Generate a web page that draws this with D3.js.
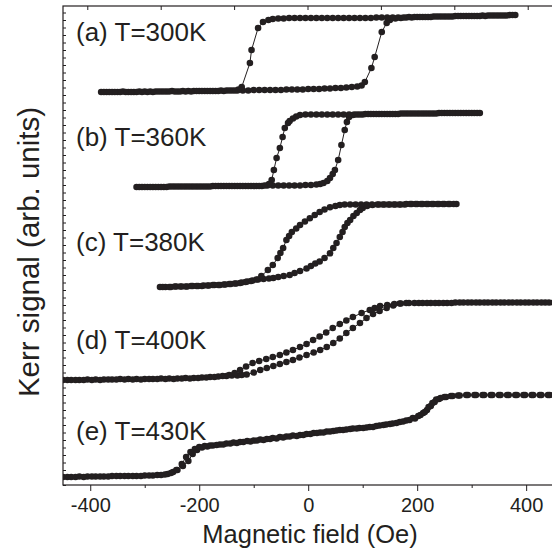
<!DOCTYPE html>
<html><head><meta charset="utf-8">
<script src="https://cdn.jsdelivr.net/npm/d3@7"></script>
<style>
html,body{margin:0;padding:0;background:#fff;}
text{font-family:"Liberation Sans",Arial,Helvetica,sans-serif;fill:#231f20;}
</style></head>
<body><svg id="chart" width="552" height="556"></svg>
<script>
// ---- data: [field (Oe), Kerr signal (arb. units, offset per curve)] ----
const ascA = [[-380,393],[-370,393],[-360,393],[-350,393],[-340,393.5],[-330,393],[-320,393],[-310,393.5],[-300,393.5],[-290,393.5],[-280,393.5],[-270,393.5],[-260,393.5],[-250,394],[-240,393.5],[-230,394],[-220,394],[-210,394],[-200,394],[-190,394],[-180,394],[-170,394],[-160,394.5],[-150,394.5],[-140,394.5],[-130,394.5],[-120,394.5],[-110,394.5],[-100,395],[-90,395],[-80,395],[-70,395],[-60,395],[-50,395],[-40,395.5],[-30,395.5],[-20,395.5],[-10,395.5],[0,396],[10,396],[20,396],[30,396.5],[40,396.5],[50,397],[60,397],[70,397.5],[80,398],[90,398.5],[98,399.5],[104,403],[116,417],[122,428],[135,453],[144,462],[150,465],[160,466.5],[170,467],[180,467.5],[190,467.5],[200,468],[210,468],[220,468],[230,468.5],[240,468.5],[250,468.5],[260,468.5],[270,469],[280,469],[290,469],[300,469],[310,469],[320,469.5],[330,469.5],[340,469.5],[350,469.5],[360,469.5],[370,470],[380,470]];
const descA = [[375,470],[365,469.5],[355,469.5],[345,469.5],[335,469.5],[325,469],[315,469],[305,469],[295,469],[285,469],[275,469],[265,468.5],[255,468.5],[245,468.5],[235,468.5],[225,468],[215,468],[205,468],[195,468],[185,468],[175,467.5],[165,467.5],[155,467.5],[145,467.5],[135,467.5],[125,467.5],[115,467],[105,467],[95,467],[85,467],[75,467],[65,467],[55,467],[45,467],[35,467],[25,467],[15,467],[5,467],[-5,467],[-15,467],[-25,467],[-35,467],[-45,466.5],[-55,466.5],[-65,466],[-73,465],[-83,463],[-92,457],[-104,435],[-107,422],[-122,398],[-128,395.5],[-135,394.5],[-145,394.5],[-155,394],[-165,394],[-175,394],[-185,394],[-195,394],[-205,394],[-215,393.5],[-225,393.5],[-235,393.5],[-245,393.5],[-255,393.5],[-265,393.5],[-275,393.5],[-285,393],[-295,393],[-305,393],[-315,393],[-325,393],[-335,393],[-345,393],[-355,393],[-365,393],[-375,393]];

const ascB = [[-315,298],[-305,298],[-295,298],[-285,298],[-275,298],[-265,298],[-255,298.5],[-245,298.5],[-235,298.5],[-225,298.5],[-215,298.5],[-205,298.5],[-195,298.5],[-185,298.5],[-175,299],[-165,299],[-155,299],[-145,299],[-135,299],[-125,299],[-115,299],[-105,299],[-95,299],[-85,299],[-75,299.5],[-65,299.5],[-55,299.5],[-45,299.5],[-35,299.5],[-25,299.5],[-15,299.5],[-5,300],[5,300],[15,300.5],[22,301],[28,302],[35,304],[40,307],[45,311],[49,315],[55,325],[61,340],[67,355],[71,363],[75,368],[82,370],[90,370.5],[100,370.5],[110,371],[120,371],[130,371],[140,371],[150,371],[160,371],[170,371.5],[180,371.5],[190,371.5],[200,371.5],[210,371.5],[220,371.5],[230,371.5],[240,372],[250,372],[260,372],[270,372],[280,372],[290,372],[300,372],[310,372]];
const descB = [[315,372],[305,372],[295,372],[285,372],[275,372],[265,372],[255,372],[245,372],[235,371.5],[225,371.5],[215,371.5],[205,371.5],[195,371.5],[185,371.5],[175,371.5],[165,371],[155,371],[145,371],[135,371],[125,371],[115,371],[105,371],[95,370.5],[85,370.5],[75,370.5],[65,370.5],[55,370.5],[45,370.5],[35,370.5],[25,370.5],[15,370.5],[5,370.5],[-5,370.5],[-15,370],[-22,368.5],[-28,366.5],[-34,364],[-37,362],[-43,357],[-47,348],[-52,337],[-58,327],[-63,315],[-67,305],[-72,301],[-80,299.5],[-90,299],[-100,299],[-110,299],[-120,299],[-130,299],[-140,299],[-150,299],[-160,299],[-170,299],[-180,298.5],[-190,298.5],[-200,298.5],[-210,298.5],[-220,298.5],[-230,298.5],[-240,298.5],[-250,298.5],[-260,298],[-270,298],[-280,298],[-290,298],[-300,298],[-310,298]];

const ascC = [[-272,198],[-262,198],[-252,198],[-242,198.5],[-232,198.5],[-222,198.5],[-212,199],[-202,199],[-192,199.5],[-182,199.5],[-172,200],[-162,200],[-152,200.5],[-142,201],[-132,201.5],[-122,202.5],[-112,203.5],[-102,204.5],[-92,205.5],[-82,206],[-72,206.5],[-64,207],[-55,208],[-45,209],[-34,210],[-25,212],[-15,214],[-3,216.5],[5,219],[13,221.5],[21,223.5],[30,227],[40,231.7],[46,237],[52,242],[58,248],[63,253],[67,258],[72,262],[77,265],[83,269],[89,272],[95,275],[100,277],[108,279],[118,280],[130,280.5],[140,280.5],[150,280.5],[160,280.5],[170,280.5],[180,281],[190,281],[200,281],[210,281],[220,281],[230,281],[240,281],[250,281],[260,281],[272,281]];
const descC = [[267,281],[257,281],[247,281],[237,281],[227,281],[217,281],[207,281],[197,281],[187,281],[177,280.5],[167,280.5],[157,280.5],[147,280.5],[137,280.5],[127,280.5],[117,280.5],[107,280.5],[97,280.5],[87,280.5],[77,280.5],[67,280.5],[58,280],[50,279],[40,277.7],[30,275.5],[21,273],[12,270],[3,266.7],[-6,263.5],[-15,260],[-22,256.5],[-30,253],[-35,249],[-40,245],[-46,237],[-51,232],[-56,227],[-65,220],[-74,215],[-86,209],[-95,205.5],[-105,204],[-115,203],[-125,202],[-135,201.5],[-145,201],[-155,200.5],[-165,200],[-175,200],[-185,199.5],[-195,199],[-205,199],[-215,199],[-225,198.5],[-235,198.5],[-245,198.5],[-255,198],[-267,198]];

const ascD = [[-450,105],[-435,105],[-420,105],[-405,105.5],[-390,105.5],[-375,105.5],[-360,105.5],[-345,106],[-330,106],[-315,106],[-300,106],[-285,106],[-270,106.5],[-255,106.5],[-240,106.5],[-225,107],[-210,107],[-195,107.5],[-180,108],[-165,108.5],[-150,109],[-140,109.5],[-130,109.5],[-122,110],[-113,110.5],[-100,112.5],[-88,115],[-76,117],[-64,119],[-52,121],[-40,123],[-28,125],[-16,127.5],[-3,130],[10,132.5],[22,135],[34,138],[46,142],[58,146.5],[70,152],[82,157],[95,162],[107,167],[119,171],[131,174],[144,177],[156,179.5],[168,181.5],[180,182],[195,182],[210,182],[225,182],[240,182],[255,182],[270,182.5],[285,182.5],[300,182.5],[315,182.5],[330,182.5],[345,182.5],[360,182.5],[375,182.5],[390,182.5],[405,182.5],[420,182.5],[435,182.5],[450,182.5]];
const descD = [[442,182.5],[428,182.5],[413,182.5],[398,182.5],[383,182.5],[368,182.5],[353,182.5],[338,182.5],[323,182.5],[308,182.5],[293,182.5],[278,182.5],[263,182],[248,182],[233,182],[218,182],[203,182],[185,182],[170,181.5],[158,181],[145,180],[132,179],[122,177],[113,175],[98,172],[82,168],[70,164.5],[58,161],[45,157],[33,152.5],[21,148.5],[9,145],[-3,141],[-15,138],[-28,135],[-40,132.5],[-52,130],[-65,128],[-77,126],[-90,124],[-102,122],[-114,118.5],[-125,115],[-135,112],[-145,110],[-157,109],[-172,108],[-187,107.5],[-202,107],[-217,106.5],[-232,106.5],[-247,106],[-262,106],[-277,106],[-292,106],[-307,105.5],[-322,105.5],[-337,105.5],[-352,105.5],[-367,105.5],[-382,105],[-397,105],[-412,105],[-427,105],[-442,105]];

const ascE = [[-450,8],[-435,8],[-420,8.5],[-405,8.5],[-390,8.5],[-375,8.5],[-360,9],[-345,9],[-330,9],[-315,9],[-300,9.5],[-285,9.5],[-270,10],[-258,11],[-248,13],[-240,15],[-230,19],[-220,24],[-212,31],[-204,35],[-195,37.5],[-185,38.5],[-175,39.5],[-162,40.5],[-150,41.5],[-137,42.5],[-125,43],[-112,44],[-100,44.5],[-88,45.5],[-76,46],[-65,47],[-52,48],[-40,48.5],[-28,49.5],[-15,50],[-3,51],[10,52],[22,52.5],[34,53.5],[46,54],[58,55],[70,55.5],[82,56.5],[94,57],[107,57.5],[119,58],[131,59.5],[143,60.5],[155,61.5],[168,63],[180,64.5],[192,67],[202,69],[211,72],[218,75],[225,79],[232,83],[240,86],[250,88],[262,89],[275,89.5],[290,90],[305,90],[320,90],[335,90],[350,90],[365,90],[380,90],[395,90],[410,90],[425,90],[440,90],[450,90]];
const descE = [[443,90],[428,90],[413,90],[398,90],[383,90],[368,90],[353,90],[338,90],[323,90],[308,90],[293,90],[278,89.5],[265,89],[253,88],[243,87],[235,85.5],[228,82],[221,78],[214,73],[206,70],[196,66.5],[186,65],[174,63.5],[162,62],[150,61],[138,60],[125,59],[113,58],[101,57],[89,56.5],[77,56],[64,55],[52,54.5],[40,53.5],[28,52.5],[16,52],[4,51],[-9,50],[-21,49],[-34,48.5],[-46,47.5],[-58,46.5],[-70,46],[-82,45],[-94,44.5],[-106,43.5],[-119,43],[-131,42],[-143,41.5],[-156,40.5],[-168,40],[-180,39.5],[-190,39],[-200,38],[-208,36],[-216,33],[-224,28],[-232,21],[-242,15],[-252,12],[-263,10.5],[-277,10],[-292,9.5],[-307,9],[-322,9],[-337,9],[-352,9],[-367,8.5],[-382,8.5],[-397,8.5],[-412,8],[-427,8],[-442,8]];

const branches = [ascA, descA, ascB, descB, ascC, descC, ascD, descD, ascE, descE];
const panelLabels = ["(a) T=300K","(b) T=360K","(c) T=380K","(d) T=400K","(e) T=430K"];
const panelLabelSignal = [444, 339, 234, 136, 45];
const xMajorTicks = [-400,-200,0,200,400];
const xMinorTicks = [-300,-100,100,300];
const xDomain = [-450,450];
const yDomain = [0,479];
const yMinorTicks = d3.range(0, 479, 7.5);
const topTicks = [0,1,2,3,4,5,6];
const xTitle = "Magnetic field (Oe)";
const yTitle = "Kerr signal (arb. units)";

// ---- drawing ----
const ink = "#231f20";
const L = 63, R = 553.4, T = 6, B = 485;
const svg = d3.select("#chart");
const x = d3.scaleLinear().domain(xDomain).range([L, R]);
const y = d3.scaleLinear().domain(yDomain).range([B, T]);
const xTop = d3.scaleLinear().domain([-0.331, 6.35]).range([L, R]);

svg.append("clipPath").attr("id","plotclip").append("rect")
  .attr("x", L).attr("y", T).attr("width", R-L).attr("height", B-T);

const plot = svg.append("g").attr("clip-path","url(#plotclip)");
const line = d3.line().x(d => x(d[0])).y(d => y(d[1]));
branches.forEach(br => {
  plot.append("path").datum(br).attr("d", line)
    .attr("fill","none").attr("stroke", ink).attr("stroke-width", 1);
});
branches.forEach(br => {
  plot.append("g").selectAll("circle").data(br).join("circle")
    .attr("cx", d => x(d[0])).attr("cy", d => y(d[1])).attr("r", 3.3).attr("fill", ink);
});

// frame
svg.append("rect").attr("x", L).attr("y", T).attr("width", R-L).attr("height", B-T)
  .attr("fill","none").attr("stroke", ink).attr("stroke-width", 1.2);

// bottom axis
const gx = svg.append("g").attr("transform", `translate(0,${B})`)
  .call(d3.axisBottom(x).tickValues(xMajorTicks).tickSize(6).tickPadding(7).tickFormat(d => String(d)));
const gxm = svg.append("g").attr("transform", `translate(0,${B})`)
  .call(d3.axisBottom(x).tickValues(xMinorTicks).tickSize(3).tickFormat(""));
// left axis (inward minor ticks)
const gy = svg.append("g").attr("transform", `translate(${L},0)`)
  .call(d3.axisLeft(y).tickValues(yMinorTicks).tickSize(-3).tickFormat(""));
// top axis (inward ticks)
const gt = svg.append("g").attr("transform", `translate(0,${T})`)
  .call(d3.axisTop(xTop).tickValues(topTicks).tickSize(-4).tickFormat(""));

[gx, gxm, gy, gt].forEach(g => {
  g.select(".domain").remove();
  g.selectAll("line").attr("stroke", ink).attr("stroke-width", 1);
  g.selectAll("text").attr("font-family", null).attr("font-size", 20).attr("fill", ink);
});

// panel labels
svg.append("g").selectAll("text").data(panelLabels).join("text")
  .attr("x", 76).attr("y", (d,i) => y(panelLabelSignal[i]))
  .attr("font-size", 26).text(d => d);

// axis titles
svg.append("text").attr("x", 310).attr("y", 543).attr("text-anchor","middle")
  .attr("font-size", 25.5).text(xTitle);
svg.append("text").attr("transform", `translate(39,252) rotate(-90)`)
  .attr("text-anchor","middle").attr("font-size", 29.5).text(yTitle);
</script></body></html>
